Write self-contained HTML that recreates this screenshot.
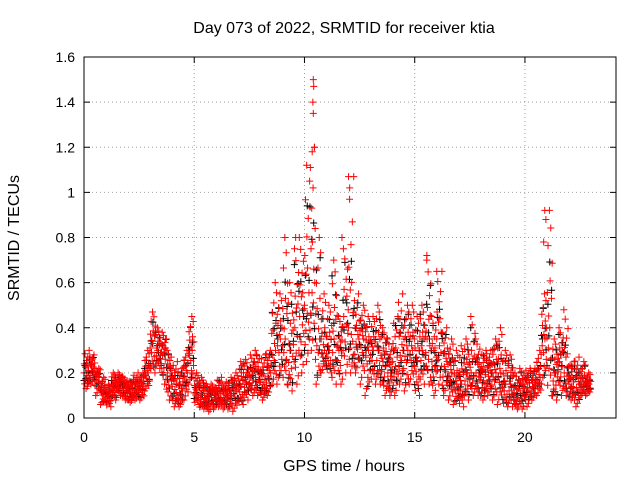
<!DOCTYPE html>
<html><head><meta charset="utf-8"><style>
body{margin:0;background:#fff}
svg{display:block;font-family:"Liberation Sans",sans-serif}
</style></head><body>
<svg id="chart" width="640" height="480">
<text x="344" y="33" text-anchor="middle" font-size="16">Day 073 of 2022, SRMTID for receiver ktia</text>
<text x="344" y="471" text-anchor="middle" font-size="16">GPS time / hours</text>
<text transform="translate(19,238) rotate(-90)" text-anchor="middle" font-size="16">SRMTID / TECUs</text>
<g id="grid"></g><g id="marks"></g><g id="axes"></g>
</svg>
<script>
const times=[0,0.25,0.5,0.75,1,1.25,1.5,1.75,2,2.25,2.5,2.75,3,3.25,3.5,3.75,4,4.25,4.5,4.75,5,5.25,5.5,5.75,6,6.25,6.5,6.75,7,7.25,7.5,7.75,8,8.25,8.5,8.75,9,9.25,9.5,9.75,10,10.25,10.5,10.75,11,11.25,11.5,11.75,12,12.25,12.5,12.75,13,13.25,13.5,13.75,14,14.25,14.5,14.75,15,15.25,15.5,15.75,16,16.25,16.5,16.75,17,17.25,17.5,17.75,18,18.25,18.5,18.75,19,19.25,19.5,19.75,20,20.25,20.5,20.75,21,21.25,21.5,21.75,22,22.25,22.5,22.75];
const lo=[.13,.15,.1,.06,.05,.08,.1,.08,.07,.08,.08,.12,.2,.22,.15,.08,.05,.05,.08,.15,.06,.04,.03,.04,.05,.04,.04,.03,.06,.08,.1,.1,.08,.1,.15,.15,.15,.12,.15,.2,.25,.3,.15,.2,.2,.15,.15,.2,.2,.2,.15,.1,.15,.15,.1,.1,.1,.15,.12,.15,.1,.15,.15,.1,.15,.1,.08,.06,.05,.08,.1,.1,.08,.1,.08,.06,.05,.05,.04,.04,.05,.08,.1,.15,.1,.08,.1,.1,.08,.05,.1,.1];
const mid=[.2,.22,.18,.12,.1,.14,.15,.13,.12,.13,.14,.2,.33,.3,.28,.2,.14,.12,.2,.3,.12,.1,.08,.1,.1,.1,.1,.12,.14,.16,.18,.18,.16,.2,.3,.35,.35,.3,.4,.45,.5,.6,.35,.3,.3,.35,.3,.45,.4,.35,.35,.3,.3,.3,.25,.2,.25,.3,.3,.3,.25,.3,.35,.25,.35,.25,.2,.15,.15,.2,.2,.2,.18,.2,.2,.2,.15,.15,.1,.12,.15,.15,.18,.35,.4,.2,.25,.2,.15,.15,.15,.15];
const hi=[.3,.28,.22,.18,.15,.2,.2,.18,.17,.2,.2,.3,.47,.4,.38,.3,.25,.22,.3,.45,.2,.18,.15,.15,.18,.16,.18,.2,.25,.26,.28,.3,.28,.3,.6,.55,.8,.6,.75,.8,1.05,1.2,.8,.55,.5,.7,.45,.75,1.07,.55,.5,.45,.45,.5,.4,.35,.45,.55,.5,.5,.45,.5,.7,.45,.65,.4,.35,.3,.32,.35,.45,.35,.3,.3,.35,.4,.3,.28,.2,.22,.22,.22,.3,.55,.92,.35,.4,.48,.25,.27,.25,.2];
const spikeT=[10.4,10.42,10.38,10.4,10.45,10.35,10.1,12.0,12.05,9.6,11.7,15.55,16.0,20.9,20.95,20.85];
const spikeV=[1.5,1.47,1.4,1.35,1.2,1.18,1.12,1.07,1.02,0.8,0.8,0.72,0.65,0.92,0.88,0.78];
const xTicks=[0,5,10,15,20];
const yTicks=[0,0.2,0.4,0.6,0.8,1,1.2,1.4,1.6];
const yLabels=["0","0.2","0.4","0.6","0.8","1","1.2","1.4","1.6"];

const L=84,R=616,T=57,B=418,XMAX=24.13,YMAX=1.6;
const X=t=>L+t/XMAX*(R-L);
const Y=v=>B-v/YMAX*(B-T);
const NS="http://www.w3.org/2000/svg";
function mk(tag,attrs,parent){const e=document.createElementNS(NS,tag);for(const k in attrs)e.setAttribute(k,attrs[k]);parent.appendChild(e);return e;}
const grid=document.getElementById('grid'),axes=document.getElementById('axes'),marks=document.getElementById('marks');
xTicks.forEach((t,i)=>{
  const x=X(t);
  if(t>0){const g=mk('line',{x1:x,x2:x,y1:T,y2:B,stroke:'#a0a0a0','stroke-dasharray':'1,3'},grid);
  
  }
  mk('line',{x1:x,x2:x,y1:B,y2:B-6,stroke:'#000'},axes);
  mk('line',{x1:x,x2:x,y1:T,y2:T+6,stroke:'#000'},axes);
  const tx=mk('text',{x:x,y:B+24,'text-anchor':'middle','font-size':14},axes);tx.textContent=String(t);
  
  
});
yTicks.forEach((v,i)=>{
  const y=Y(v);
  if(v>0&&v<YMAX){const g=mk('line',{x1:L,x2:R,y1:y,y2:y,stroke:'#a0a0a0','stroke-dasharray':'1,3'},grid);
  
  }
  mk('line',{x1:L,x2:L+6,y1:y,y2:y,stroke:'#000'},axes);
  mk('line',{x1:R,x2:R-6,y1:y,y2:y,stroke:'#000'},axes);
  const tx=mk('text',{x:L-9,y:y+5,'text-anchor':'end','font-size':14},axes);tx.textContent=yLabels[i];
  
  
});
const fr=mk('rect',{x:L,y:T,width:R-L,height:B-T,fill:'none',stroke:'#000'},axes);


function plus(t,v,col){
  const x=X(t),y=Y(v);
  const p=mk('path',{d:`M${x-3.5},${y}h7M${x},${y-3.5}v7`,stroke:col,'stroke-width':1,fill:'none'},marks);
  
  
}
const fr2=[0,0.55,-0.6,0.25,-0.3,0.85,-0.85,0.4,-0.15,1,-1,0.1,-0.45,0.7,-0.7,0.3];
function val(i,f){return f>=0?mid[i]+f*(hi[i]-mid[i]):mid[i]+f*(mid[i]-lo[i]);}
times.forEach((t,i)=>{
  for(let j=0;j<6;j++){plus(t+j*0.042,val(i,fr2[(j*5+i*3+2)%16]*0.8),'#000');}
});
times.forEach((t,i)=>{
  for(let j=0;j<16;j++){plus(t+((j*7+i)%16)*0.0156,val(i,fr2[(j+i*5)%16]),'#f00');}
});
spikeT.forEach((t,i)=>plus(t,spikeV[i],'#f00'));
</script>
</body></html>
